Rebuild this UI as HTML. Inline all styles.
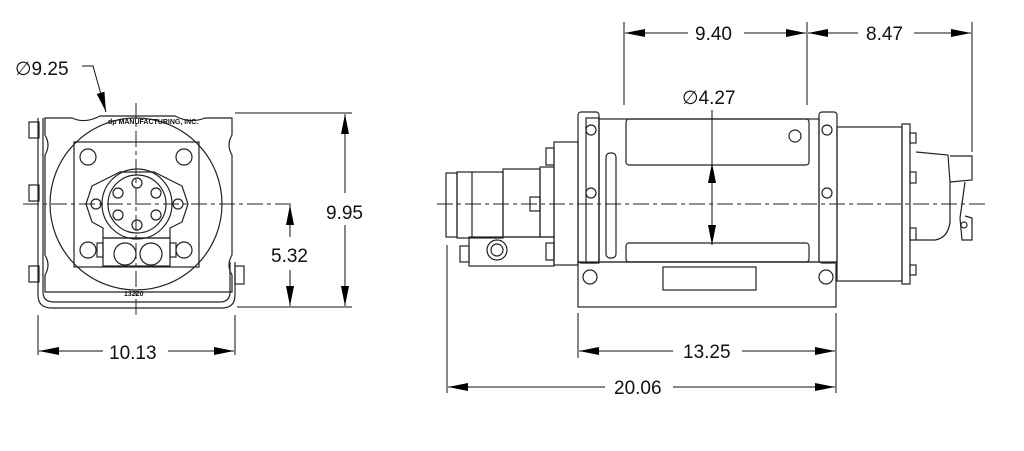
<!DOCTYPE html>
<html><head><style>
html,body{margin:0;padding:0;background:#fff;}
svg{display:block;}
text{font-family:"Liberation Sans",sans-serif;font-size:19px;fill:#111;}
</style></head><body>
<svg width="1024" height="451" viewBox="0 0 1024 451" xmlns="http://www.w3.org/2000/svg">
<defs>
<marker id="a" viewBox="0 0 20 8" refX="20" refY="4" markerWidth="20" markerHeight="8" markerUnits="userSpaceOnUse" orient="auto-start-reverse"><path d="M0,0L20,4L0,8z" fill="#000"/></marker>
</defs>
<g fill="none" stroke="#222" stroke-width="1.2">
<path d="M38,118 L38,295 Q38,308 52,308 L222,308 Q235,308 235,295 L235,262"/>
<path d="M43,118 L43,292 Q43,302 54,302 L220,302 Q230,302 230,292 L230,262"/>
<rect x="29" y="122" width="10" height="16"/><rect x="29" y="185" width="10" height="16"/><rect x="29" y="266" width="10" height="16"/>
<rect x="235" y="266" width="9" height="18"/>
<path d="M45,118 L72,118 Q85,124 100,116 L175,116 Q190,124 205,118 L232,118 L232,135 Q226,145 232,155 L232,255 Q226,265 232,275 L232,292 L45,292 L45,275 Q51,265 45,255 L45,155 Q51,145 45,135 Z"/>
<circle cx="136" cy="204" r="86"/>
<rect x="74" y="142" width="125" height="125"/>
<circle cx="88" cy="157" r="8"/><circle cx="184" cy="157" r="8"/><circle cx="88" cy="250" r="8"/><circle cx="184" cy="250" r="8"/>
<path d="M92,186 L120,172 L154,172 L182,186 L188,204 L182,222 L170,228 L170,238 L103,238 L103,228 L92,222 L86,204 Z"/>
<circle cx="137" cy="204" r="35"/><circle cx="137" cy="204" r="29"/>
<circle cx="137" cy="183" r="5"/><circle cx="137" cy="225" r="5"/><circle cx="118" cy="193" r="5"/><circle cx="156" cy="193" r="5"/><circle cx="118" cy="215" r="5"/><circle cx="156" cy="215" r="5"/>
<circle cx="96" cy="204" r="5"/><circle cx="178" cy="204" r="5"/>
<rect x="103" y="238" width="67" height="28"/>
<circle cx="125" cy="254" r="11"/><circle cx="151" cy="254" r="11"/>
<rect x="97" y="243" width="6" height="14"/><rect x="170" y="243" width="6" height="14"/>
</g>
<g stroke="#222" stroke-width="1" stroke-dasharray="16,4,4,4" fill="none">
<line x1="23" y1="204" x2="293" y2="204"/>
<line x1="136" y1="103" x2="136" y2="318"/>
<line x1="437" y1="204" x2="985" y2="204"/>
</g>
<text x="108" y="124" style="font-size:7px;font-weight:bold">dp MANUFACTURING, INC.</text>
<text x="124" y="296" style="font-size:7px;font-weight:bold">13220</text>
<g stroke="#111" stroke-width="1" fill="none">
<line x1="235" y1="113" x2="352" y2="113"/><line x1="237" y1="307" x2="352" y2="307"/>
<line x1="345" y1="193" x2="345" y2="114" marker-end="url(#a)"/><line x1="345" y1="225" x2="345" y2="306" marker-end="url(#a)"/>
<line x1="290" y1="237" x2="290" y2="205" marker-end="url(#a)"/><line x1="290" y1="270" x2="290" y2="306" marker-end="url(#a)"/>
<line x1="38" y1="315" x2="38" y2="355"/><line x1="235" y1="315" x2="235" y2="355"/>
<line x1="103" y1="351" x2="39" y2="351" marker-end="url(#a)"/><line x1="168" y1="351" x2="234" y2="351" marker-end="url(#a)"/>
<path d="M82,66 L93,66 L106,112" marker-end="url(#a)"/>
</g>
<text x="326" y="219">9.95</text>
<text x="271" y="262">5.32</text>
<text x="109" y="359">10.13</text>
<text x="15" y="75">∅9.25</text>

<g fill="none" stroke="#222" stroke-width="1.2">
<rect x="446" y="173" width="11" height="64"/>
<rect x="457" y="172" width="46" height="66"/><line x1="472" y1="172" x2="472" y2="238"/>
<rect x="503" y="169" width="37" height="68"/>
<rect x="540" y="167" width="14" height="70"/><rect x="530" y="197" width="10" height="14"/>
<rect x="554" y="142" width="24" height="123"/>
<rect x="546" y="148" width="8" height="17"/><rect x="546" y="243" width="8" height="17"/>
<rect x="469" y="237" width="85" height="29"/><rect x="460" y="246" width="9" height="16"/>
<circle cx="497" cy="250" r="10"/><circle cx="497" cy="250" r="6"/>
<rect x="578" y="112" width="21" height="151" rx="3"/><rect x="586" y="118" width="13" height="145"/>
<circle cx="591" cy="130" r="5"/><circle cx="591" cy="193" r="5"/>
<rect x="599" y="119" width="220" height="143"/>
<rect x="626" y="119" width="183" height="46" rx="3"/>
<rect x="626" y="243" width="183" height="19" rx="3"/>
<circle cx="795" cy="136" r="6"/>
<rect x="606" y="153" width="10" height="105" rx="4"/>
<rect x="819" y="112" width="18" height="151" rx="3"/><circle cx="827" cy="130" r="5"/><circle cx="827" cy="193" r="5"/>
<rect x="578" y="262" width="258" height="45"/>
<rect x="663" y="267" width="93" height="23"/>
<circle cx="590" cy="277" r="7"/><circle cx="826" cy="277" r="7"/>
<rect x="837" y="127" width="65" height="154"/><rect x="902" y="124" width="8" height="160"/>
<rect x="910" y="133" width="6" height="10"/><rect x="910" y="172" width="6" height="11"/><rect x="910" y="228" width="6" height="12"/><rect x="910" y="265" width="6" height="10"/>
<path d="M916,152 L948,155 L950,182 L950,222 Q948,238 935,240 L916,240"/>
<path d="M950,156 L972,156 L972,180 L950,182"/>
<path d="M965,182 L960,218 L962,240 L972,240 L972,218 L965,216"/><circle cx="964" cy="225" r="3"/>
</g>
<g stroke="#111" stroke-width="1" fill="none">
<line x1="624" y1="22" x2="624" y2="105"/><line x1="807" y1="22" x2="807" y2="105"/><line x1="972" y1="22" x2="972" y2="152"/>
<line x1="688" y1="33" x2="625" y2="33" marker-end="url(#a)"/><line x1="744" y1="33" x2="806" y2="33" marker-end="url(#a)"/>
<line x1="858" y1="33" x2="808" y2="33" marker-end="url(#a)"/><line x1="914" y1="33" x2="971" y2="33" marker-end="url(#a)"/>
<line x1="712" y1="110" x2="712" y2="163"/>
<line x1="712" y1="205" x2="712" y2="163" marker-end="url(#a)"/><line x1="712" y1="205" x2="712" y2="245" marker-end="url(#a)"/>
<line x1="578" y1="313" x2="578" y2="358"/><line x1="836" y1="313" x2="836" y2="393"/><line x1="447" y1="245" x2="447" y2="393"/>
<line x1="673" y1="351" x2="579" y2="351" marker-end="url(#a)"/><line x1="742" y1="351" x2="835" y2="351" marker-end="url(#a)"/>
<line x1="605" y1="387" x2="448" y2="387" marker-end="url(#a)"/><line x1="673" y1="387" x2="835" y2="387" marker-end="url(#a)"/>
</g>
<text x="695" y="40">9.40</text>
<text x="866" y="40">8.47</text>
<text x="682" y="104">∅4.27</text>
<text x="683" y="358">13.25</text>
<text x="614" y="394">20.06</text>
</svg>
</body></html>
